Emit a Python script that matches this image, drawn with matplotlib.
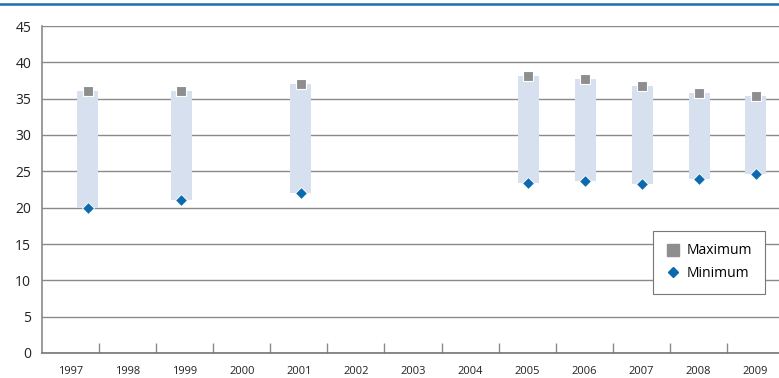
import numpy as np
import matplotlib.pyplot as plt
from matplotlib.lines import Line2D

# data
years = ['1997', '1998', '1999', '2000', '2001', '2002', '2003',
         '2004', '2005', '2006', '2007', '2008', '2009']
maximum = [36.0, np.nan, 36.0, np.nan, 37.0, np.nan, np.nan,
           np.nan, 38.1, 37.7, 36.8, 35.8, 35.4]
minimum = [20.0, np.nan, 21.0, np.nan, 22.0, np.nan, np.nan,
           np.nan, 23.4, 23.7, 23.3, 24.0, 24.7]

# the source chart draws the 1997 range a bit right of its slot
shift = [0.30, 0, -0.06, 0, 0.03, 0, 0, 0, 0.02, 0.02, 0.02, 0.02, 0.01]

plt.rcParams['font.family'] = ['Open Sans', 'DejaVu Sans']

fig = plt.figure(figsize=(7.79, 3.78), dpi=100)
# plot area runs a little past the right edge of the picture
ax = fig.add_axes([42.3 / 779, 25 / 378, 741.4 / 779, 327 / 378])

x = np.arange(len(years)) + np.array(shift)
mx = np.array(maximum)
mn = np.array(minimum)

# floating range bars
ax.bar(x, mx - mn, bottom=mn, width=0.37, color='#d6e0ee', zorder=2)
ax.scatter(x, mx, marker='s', s=46, color='#8e8e90', edgecolors='white',
           linewidths=0.8, zorder=4)
ax.scatter(x, mn, marker='D', s=36, color='#0a6aad', edgecolors='white',
           linewidths=0.6, zorder=4)

ax.set_xlim(-0.5, len(years) - 0.5)
ax.set_ylim(0, 45)
ax.set_yticks(range(0, 46, 5))
ax.yaxis.grid(True, color='#8a8a8a', linewidth=1.0, zorder=0)
ax.set_axisbelow(True)

ax.set_xticks(np.arange(len(years)))
ax.set_xticklabels(years, fontsize=8)
ax.set_xticks(np.arange(0.5, len(years) - 0.5, 1), minor=True)
ax.tick_params(axis='x', which='major', length=0, pad=9, colors='#222222')
ax.tick_params(axis='x', which='minor', direction='in', length=7,
               color='#8a8a8a', width=1)
ax.tick_params(axis='y', length=0, pad=8, labelsize=10, colors='#222222')

for side in ['top', 'right']:
    ax.spines[side].set_visible(False)
ax.spines['left'].set_color('#8a8a8a')
ax.spines['bottom'].set_color('#777777')
ax.spines['left'].set_linewidth(1.2)
ax.spines['bottom'].set_linewidth(1.2)

handles = [
    Line2D([], [], marker='s', linestyle='none', color='#8e8e90',
           markersize=8, label='Maximum'),
    Line2D([], [], marker='D', linestyle='none', color='#0a6aad',
           markersize=5.5, label='Minimum'),
]
leg = ax.legend(handles=handles, loc='upper left',
                bbox_to_anchor=((653 - 42.3) / 741.4, (353 - 231) / 327),
                fontsize=10, frameon=True, fancybox=False, framealpha=1,
                handletextpad=0.45, borderpad=0.9, labelspacing=0.55,
                handlelength=1.1, borderaxespad=0)
leg.get_frame().set_edgecolor('#777777')
leg.get_frame().set_linewidth(0.8)

# blue rule along the top edge
fig.add_artist(Line2D([0, 1], [1 - 3.5 / 378, 1 - 3.5 / 378],
                      color='#1b6fb0', linewidth=1.8))

fig.savefig('out.png', dpi=100)
